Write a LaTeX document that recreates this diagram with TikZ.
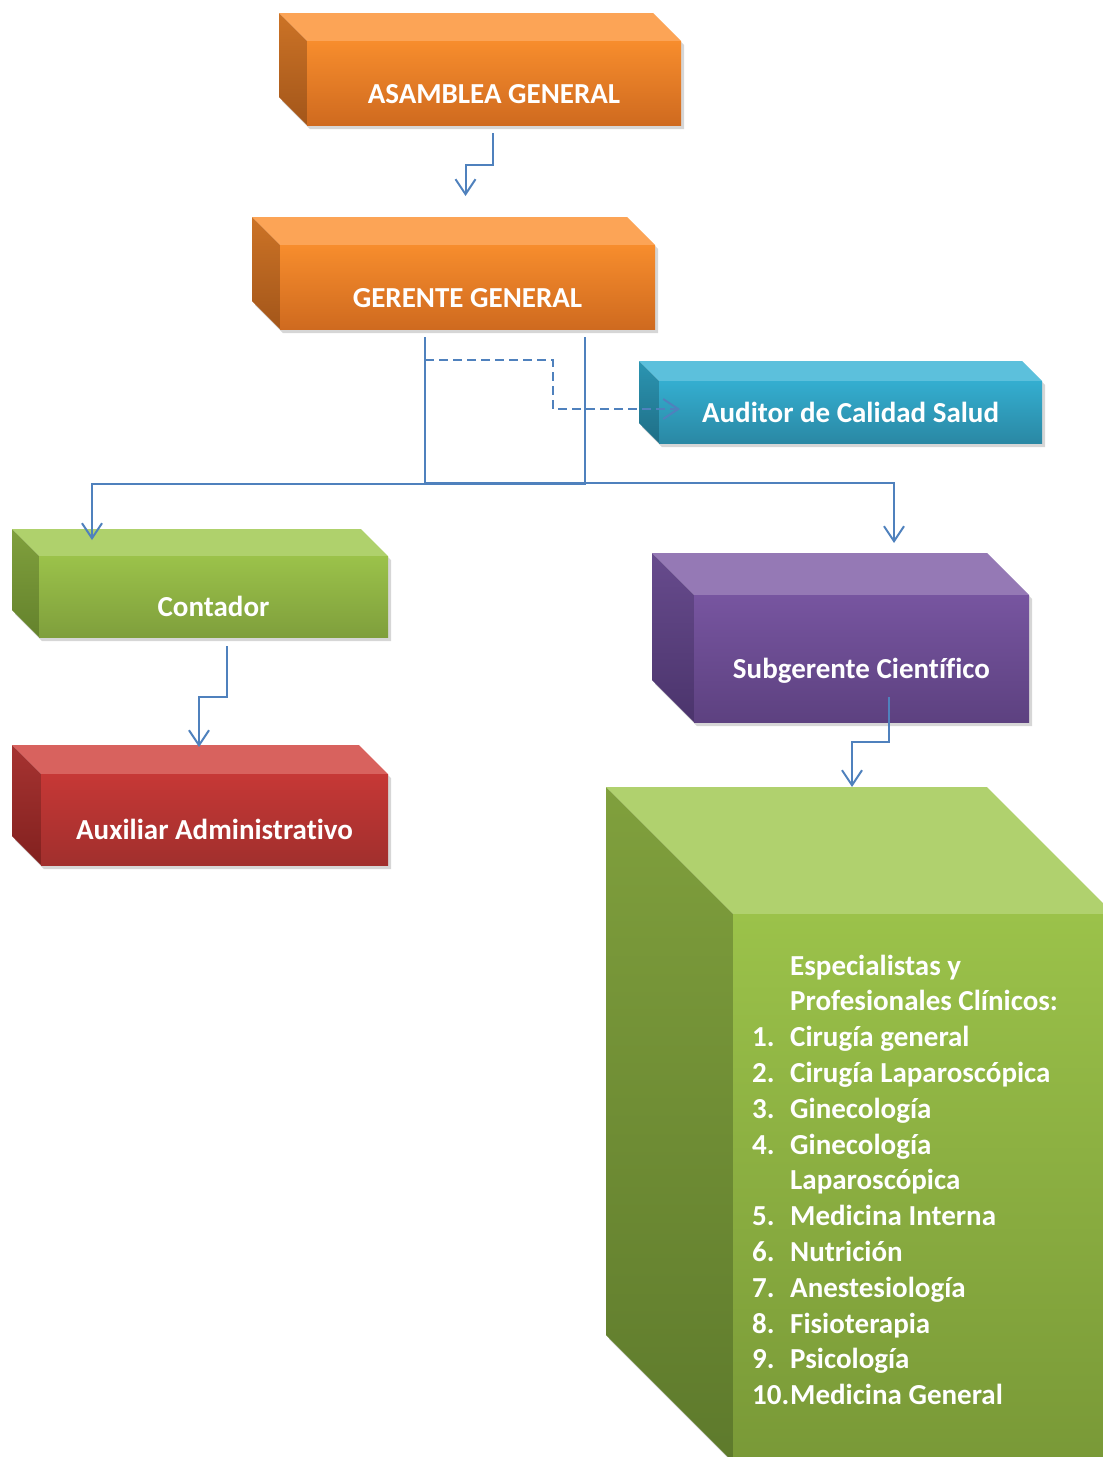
\documentclass[tikz,border=0pt]{standalone}
\usepackage{fontspec}
\setmainfont{Carlito}[Ligatures=NoCommon]
\usetikzlibrary{calc,arrows.meta,fit}
\definecolor{linkblue}{HTML}{4F81BD}
% orange
\definecolor{orT}{HTML}{FCA456}\definecolor{orF1}{HTML}{F78D2D}\definecolor{orF2}{HTML}{CF6A1F}
\definecolor{orS1}{HTML}{CC7326}\definecolor{orS2}{HTML}{A3561A}
% blue
\definecolor{blT}{HTML}{5CC0DC}\definecolor{blF1}{HTML}{34AED0}\definecolor{blF2}{HTML}{2A88A4}
\definecolor{blS1}{HTML}{2B95B2}\definecolor{blS2}{HTML}{1F6E86}
% green
\definecolor{grT}{HTML}{AFD16C}\definecolor{grF1}{HTML}{9BC24A}\definecolor{grF2}{HTML}{7F9F3C}
\definecolor{grS1}{HTML}{80A03D}\definecolor{grS2}{HTML}{64822C}
% red
\definecolor{rdT}{HTML}{D8625E}\definecolor{rdF1}{HTML}{C63836}\definecolor{rdF2}{HTML}{A12F2D}
\definecolor{rdS1}{HTML}{A63331}\definecolor{rdS2}{HTML}{82211F}
% purple
\definecolor{puT}{HTML}{9579B5}\definecolor{puF1}{HTML}{7755A0}\definecolor{puF2}{HTML}{5D4180}
\definecolor{puS1}{HTML}{674B8D}\definecolor{puS2}{HTML}{4B346C}
% big green
\definecolor{bgT}{HTML}{B0D16E}\definecolor{bgF1}{HTML}{9BC24A}\definecolor{bgF2}{HTML}{799937}
\definecolor{bgS1}{HTML}{80A03D}\definecolor{bgS2}{HTML}{5E7A2C}
\tikzset{
  conn/.style={draw=linkblue, line width=2pt, -{Straight Barb[length=15pt,width=20pt,line width=2pt]}},
  dconn/.style={conn, dash pattern=on 9pt off 5pt},
  lbl/.style={text=white, font=\bfseries\fontsize{29pt}{34pt}\selectfont, inner sep=0pt, anchor=base},
  face/.style={inner sep=0pt, outer sep=0pt},
}
% #1 name, #2 x1, #3 y1, #4 x2, #5 y2 (front face), #6 depth, #7 colour prefix
\newcommand\cubebox[7]{%
  \fill[black,opacity=.16] (#2-#6+3,#3-#6+4) -- (#4-#6+3,#3-#6+4) -- (#4+3,#3+4) -- (#4+3,#5+4) -- (#2+3,#5+4) -- (#2-#6+3,#5-#6+4) -- cycle;
  \fill[#7T] (#2-#6,#3-#6) -- (#4-#6,#3-#6) -- (#4,#3) -- (#2,#3) -- cycle;
  \shade[top color=#7S1,bottom color=#7S2] (#2-#6,#3-#6) -- (#2,#3) -- (#2,#5) -- (#2-#6,#5-#6) -- cycle;
  \shade[top color=#7F1,bottom color=#7F2] (#2,#3) rectangle (#4,#5);
  \path (#2,#3) coordinate (#1-nw) (#4,#5) coordinate (#1-se);
  \node[face, fit=(#1-nw)(#1-se)] (#1) {};
}
\begin{document}
\begin{tikzpicture}[x=1pt,y=-1pt]
\useasboundingbox (0,0) rectangle (1103,1457);
\clip (0,0) rectangle (1103,1457);

\cubebox{asm}{307}{41}{681}{125}{28}{or}
\cubebox{ger}{280}{245}{655}{329}{28}{or}
\cubebox{aud}{659}{381}{1042}{443}{20}{bl}
\cubebox{con}{39}{556}{388}{637}{27}{gr}
\cubebox{aux}{41}{774}{388}{865}{29}{rd}
\cubebox{sub}{694}{595}{1029}{722}{42}{pu}
\cubebox{big}{733}{914}{1114}{1462}{127}{bg}

\node[lbl] (asmT) at ($(asm.south)+(0,-22)$) {ASAMBLEA GENERAL};
\node[lbl] (gerT) at ($(ger.south)+(0,-22)$) {GERENTE GENERAL};
\node[lbl] (audT) at ($(aud.south)+(0,-21)$) {Auditor de Calidad Salud};
\node[lbl] (conT) at ($(con.south)+(0,-21)$) {Contador};
\node[lbl] (auxT) at ($(aux.south)+(0,-26)$) {Auxiliar Administrativo};
\node[lbl] (subT) at ($(sub.south)+(0,-44)$) {Subgerente Científico};

\node[text=white, inner sep=0pt, anchor=base west, text width=340pt, align=flush left,
      font=\bfseries\fontsize{29pt}{35.8pt}\selectfont] (bigT) at (752,975) {%
\hspace*{38pt}Especialistas y\\
\hspace*{38pt}Profesionales Clínicos:\\
\makebox[38pt][l]{1.}Cirugía general\\
\makebox[38pt][l]{2.}Cirugía Laparoscópica\\
\makebox[38pt][l]{3.}Ginecología\\
\makebox[38pt][l]{4.}Ginecología\\
\hspace*{38pt}Laparoscópica\\
\makebox[38pt][l]{5.}Medicina Interna\\
\makebox[38pt][l]{6.}Nutrición\\
\makebox[38pt][l]{7.}Anestesiología\\
\makebox[38pt][l]{8.}Fisioterapia\\
\makebox[38pt][l]{9.}Psicología\\
\makebox[38pt][l]{10.}Medicina General};

% connectors
\draw[conn] ($(asm.south)+(-1,8)$) -- ++(0,32) -| ($(ger.north)+(-2,-49)$);
\draw[conn] ($(ger.south)+(117.5,8)$) -- ++(0,147) -| ($(con.north)+(-121.5,-16)$);
\draw[conn] ($(ger.south)+(-42.5,8)$) -- ++(0,146) -| ($(sub.north)+(32.5,-52)$);
\draw[dconn] ($(ger.south)+(-42.5,31)$) -| ++(128,49) -- ($(aud.west)+(21,-3)$);
\draw[conn] ($(con.south)+(13.5,9)$) -- ++(0,51) -| ($(aux.north)+(-15.5,-27)$);
\draw[conn] ($(sub.south)+(27,-25)$) -- ++(0,45) -| ($(big.north)+(-71.5,-127)$);
\end{tikzpicture}
\end{document}
